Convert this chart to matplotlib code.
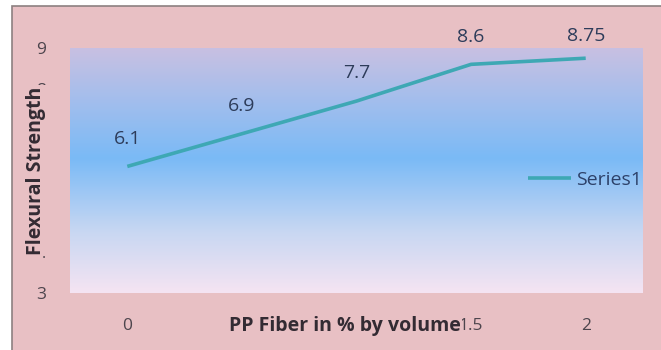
import numpy as np
import matplotlib
matplotlib.use("Agg")
import matplotlib.pyplot as plt
from matplotlib.patches import Rectangle
from matplotlib.colors import LinearSegmentedColormap

categories = ["0", "0.5", "1", "1.5", "2"]
strength = [6.1, 6.9, 7.7, 8.6, 8.75]
series_name = "Series1"
x_label = "PP Fiber in % by volume"
y_label = "Flexural Strength"
y_ticks = [3, 4, 5, 6, 7, 8, 9]

FONT = "Open Sans"
W, H = 661, 350
fig = plt.figure(figsize=(W / 100, H / 100), dpi=100)
fig.patch.set_facecolor("white")

pink = (232 / 255, 192 / 255, 196 / 255)
bg = Rectangle((12 / W, -0.01), 1.0, (H - 6) / H + 0.01, transform=fig.transFigure,
               facecolor=pink, edgecolor=(0.55, 0.5, 0.5), linewidth=1.2, zorder=-10)
fig.patches.append(bg)

ax = fig.add_axes([70 / W, 57 / H, 573 / W, 245 / H])
ax.set_facecolor("none")

grad_colors = [
    (0.0, (245 / 255, 228 / 255, 243 / 255)),
    (0.25, (200 / 255, 215 / 255, 242 / 255)),
    (0.55, (122 / 255, 186 / 255, 246 / 255)),
    (0.8, (165 / 255, 190 / 255, 236 / 255)),
    (1.0, (200 / 255, 192 / 255, 226 / 255)),
]
cmap = LinearSegmentedColormap.from_list("g", grad_colors)
gy = np.linspace(0, 1, 256).reshape(-1, 1)
n = len(categories)
ax.imshow(gy, cmap=cmap, aspect="auto", origin="lower",
          extent=[-0.5, n - 0.5, 3, 9], zorder=0)

xs = np.arange(n)
line_color = (62 / 255, 168 / 255, 180 / 255)
ax.plot(xs, strength, color=line_color, linewidth=2.6, zorder=3, label=series_name,
        solid_capstyle="butt")

label_color = (45 / 255, 60 / 255, 90 / 255)
for i, (x, v) in enumerate(zip(xs, strength)):
    off = 20 if i < n - 1 else 16
    ax.annotate(f"{v:g}", (x, v), xytext=(0, off), textcoords="offset points",
                ha="center", va="center", fontsize=14, color=label_color,
                family=FONT, zorder=5, annotation_clip=False)

ax.set_xlim(-0.5, n - 0.5)
ax.set_ylim(3, 9)
ax.set_xticks(xs)
ax.set_xticklabels(categories, family=FONT, fontsize=12.5, color=(0.3, 0.27, 0.3))
ax.set_yticks(y_ticks)
ax.set_yticklabels([str(t) for t in y_ticks], family=FONT, fontsize=12.5,
                   color=(0.3, 0.27, 0.3))
ax.tick_params(axis="both", length=0)
ax.tick_params(axis="x", pad=18)
ax.tick_params(axis="y", pad=17)
for s in ax.spines.values():
    s.set_visible(False)

ax.set_xlabel(x_label, family=FONT, fontweight="bold", fontsize=14,
              color=(0.2, 0.17, 0.2),
              bbox=dict(facecolor=pink, edgecolor="none", pad=1.0))
ax.xaxis.set_label_coords((345 - 70) / 573, -(326 - 293) / 245)
ax.xaxis.label.set_va("center")
ax.set_ylabel(y_label, family=FONT, fontweight="bold", fontsize=14,
              color=(0.2, 0.17, 0.2),
              bbox=dict(facecolor=pink, edgecolor="none", pad=1.0))
ax.yaxis.set_label_coords(-(70 - 36) / 573, 0.5)
ax.yaxis.label.set_va("center")

leg = ax.legend(loc="center left", bbox_to_anchor=((518 - 70) / 573, (293 - 180) / 245),
                frameon=False, handlelength=2.2, handletextpad=0.3, borderpad=0,
                prop={"family": FONT, "size": 14})
for t in leg.get_texts():
    t.set_color((45 / 255, 65 / 255, 105 / 255))

fig.savefig("out.png", dpi=100)
